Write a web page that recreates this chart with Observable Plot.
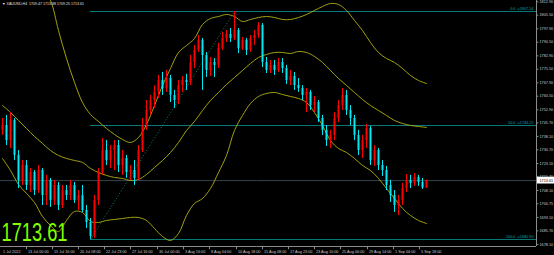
<!DOCTYPE html>
<html><head><meta charset="utf-8">
<script src="https://cdn.jsdelivr.net/npm/d3@7"></script>
<script src="https://cdn.jsdelivr.net/npm/@observablehq/plot@0.6"></script>
<style>
html,body{margin:0;padding:0;background:#000;overflow:hidden}
#chart svg{display:block}
</style></head><body><div id="chart"></div>
<script>
const header = "\u25BC XAUUSD,H4  1709.47 1713.88 1709.25 1713.61";

const opens = [1741.5,1744.2,1735.9,1747.0,1727.6,1713.7,1722.0,1710.9,1718.1,1708.1,
1719.2,1705.3,1713.7,1702.6,1710.9,1699.8,1708.1,1705.3,1710.9,1702.6,
1705.3,1697.0,1690.3,1682.6,1702.6,1718.1,1730.3,1724.8,1730.3,1733.1,
1722.0,1725.9,1718.1,1719.2,1714.8,1730.3,1744.2,1752.6,1758.1,1762.6,
1769.2,1764.8,1770.3,1760.9,1758.1,1766.4,1769.2,1768.1,1779.2,1785.9,
1791.4,1783.1,1774.8,1779.2,1777.6,1787.0,1792.6,1794.8,1792.6,1797.0,
1787.0,1791.4,1785.9,1792.6,1794.2,1799.8,1779.2,1774.8,1777.6,1774.8,
1779.2,1775.9,1769.2,1771.4,1766.4,1764.8,1760.9,1762.6,1755.3,1757.0,
1748.1,1741.5,1735.9,1738.7,1748.1,1755.3,1760.9,1752.6,1748.1,1738.7,
1730.3,1735.9,1742.6,1724.8,1730.3,1722.0,1719.2,1710.9,1705.3,1699.8,
1702.6,1709.2,1713.7,1712.0,1715.4,1712.6,1709.47];
const highs = [1748.1,1749.8,1751.4,1748.1,1730.3,1724.8,1724.8,1720.3,1719.2,1722.0,
1720.3,1716.5,1714.8,1713.7,1712.6,1710.9,1710.9,1713.7,1712.6,1708.1,
1710.9,1699.8,1692.6,1705.3,1720.3,1737.0,1735.9,1733.1,1735.9,1735.9,
1730.3,1727.6,1722.0,1724.8,1733.1,1748.1,1758.1,1760.9,1766.4,1772.0,
1773.7,1774.8,1772.0,1763.7,1769.2,1771.4,1772.6,1783.1,1788.7,1794.2,
1792.6,1784.8,1782.0,1781.4,1789.8,1795.9,1797.0,1798.1,1807.54,1798.1,
1793.1,1792.6,1794.2,1797.0,1801.4,1800.9,1782.0,1780.3,1780.3,1781.4,
1781.4,1777.6,1774.8,1773.7,1770.3,1766.4,1764.8,1763.7,1760.3,1758.1,
1749.8,1744.2,1741.5,1751.4,1758.1,1764.8,1763.7,1755.3,1749.8,1741.5,
1738.7,1744.8,1743.7,1733.1,1731.5,1724.8,1721.5,1713.7,1708.1,1705.3,
1712.0,1717.0,1716.5,1717.6,1716.5,1714.8,1713.88];
const lows = [1738.7,1733.1,1731.5,1724.8,1709.2,1710.9,1708.1,1707.0,1705.3,1706.5,
1699.8,1699.8,1698.7,1699.8,1697.0,1698.1,1702.6,1702.6,1700.9,1697.0,
1695.9,1687.0,1680.9,1681.5,1699.8,1716.5,1722.0,1720.3,1719.2,1718.1,
1716.5,1714.8,1713.7,1710.9,1713.7,1729.2,1741.5,1749.8,1753.7,1759.2,
1760.9,1762.6,1757.0,1753.7,1755.9,1762.6,1763.7,1766.4,1775.9,1784.8,
1763.7,1770.9,1771.4,1770.9,1775.9,1785.9,1790.3,1790.3,1791.4,1784.2,
1785.9,1783.1,1784.8,1788.7,1792.6,1776.4,1773.1,1773.1,1772.0,1773.7,
1773.1,1767.0,1766.4,1763.7,1762.6,1758.1,1751.4,1752.6,1751.4,1745.9,
1738.7,1732.6,1731.5,1735.9,1745.9,1752.6,1749.8,1744.2,1735.9,1727.6,
1725.9,1731.5,1722.0,1721.5,1719.2,1715.9,1708.1,1701.5,1695.9,1694.2,
1699.8,1707.0,1709.2,1710.4,1710.4,1708.7,1709.25];
const closes = [1744.2,1735.9,1747.0,1727.6,1713.7,1722.0,1710.9,1718.1,1708.1,1719.2,
1705.3,1713.7,1702.6,1710.9,1699.8,1708.1,1705.3,1710.9,1702.6,1705.3,
1697.0,1690.3,1682.6,1702.6,1718.1,1730.3,1724.8,1730.3,1733.1,1722.0,
1725.9,1718.1,1719.2,1714.8,1730.3,1744.2,1752.6,1758.1,1762.6,1769.2,
1764.8,1770.3,1760.9,1758.1,1766.4,1769.2,1768.1,1779.2,1785.9,1791.4,
1783.1,1774.8,1779.2,1777.6,1787.0,1792.6,1794.8,1792.6,1797.0,1787.0,
1791.4,1785.9,1792.6,1794.2,1799.8,1779.2,1774.8,1777.6,1774.8,1779.2,
1775.9,1769.2,1771.4,1766.4,1764.8,1760.9,1762.6,1755.3,1757.0,1748.1,
1741.5,1735.9,1738.7,1748.1,1755.3,1760.9,1752.6,1748.1,1738.7,1730.3,
1735.9,1742.6,1724.8,1730.3,1722.0,1719.2,1710.9,1705.3,1699.8,1702.6,
1709.2,1713.7,1712.0,1715.4,1712.6,1709.5,1713.61];

const bbIdx = [0,2,4,6,8,10,12,14,16,18,20,22,24,26,28,30,32,34,36,38,40,42,44,46,48,50,52,54,56,58,60,62,64,66,68,70,72,74,76,78,80,82,84,86,88,90,92,94,96,98,100,102,104,106];
const bbUpper = [1846.97,1841.42,1835.87,1830.31,1824.76,1820.31,1813.65,1796.99,1781.44,1768.11,
1757.0,1750.33,1746.45,1742.56,1739.23,1736.45,1734.78,1737.56,1744.78,1755.33,
1766.44,1775.88,1784.77,1788.66,1792.55,1800.32,1803.65,1804.76,1805.87,1804.76,
1801.99,1803.10,1804.21,1804.76,1804.21,1803.10,1803.10,1804.21,1805.87,1808.10,
1810.32,1811.98,1811.43,1808.10,1802.54,1796.99,1790.32,1784.77,1781.44,1779.22,
1775.88,1772.0,1769.22,1767.55];
const bbMiddle = [1755.33,1751.45,1747.0,1742.56,1738.12,1734.23,1730.34,1727.56,1725.9,1724.79,
1723.68,1720.34,1718.12,1716.46,1715.35,1714.79,1713.68,1714.23,1717.01,1720.9,
1724.79,1729.23,1734.78,1741.45,1746.45,1752.56,1758.11,1762.55,1767.0,1770.89,
1774.77,1778.66,1781.99,1783.66,1784.77,1784.77,1784.21,1785.32,1784.77,1782.55,
1779.22,1774.77,1770.33,1766.44,1762.55,1758.67,1755.33,1752.56,1749.78,1747.0,
1745.34,1744.23,1743.67,1743.12];
const bbLower = [1725.9,1719.23,1711.46,1706.46,1701.46,1693.69,1688.69,1685.35,1691.46,1696.46,
1695.91,1690.91,1690.35,1691.46,1692.02,1692.57,1693.13,1693.13,1691.46,1687.02,
1682.58,1680.35,1684.24,1694.24,1700.9,1703.68,1709.24,1718.12,1727.56,1741.45,
1749.78,1756.44,1760.33,1762.0,1762.55,1761.44,1760.33,1759.22,1757.0,1751.45,
1744.23,1735.89,1731.45,1729.23,1725.9,1722.01,1719.23,1714.79,1709.24,1703.68,
1698.13,1694.24,1691.46,1689.8];

const fibLevels = [0, 50, 100];

const yTicks = [1812.90,1805.50,1797.90,1790.50,1782.90,1775.50,1767.90,1760.50,1752.90,1745.70,1738.10,1730.70,1723.10,1715.70,1708.10,1700.75,1693.10,1685.70,1678.10];
const xTickPos = [-0.25,6,12.5,19,25.5,32,38.75,45.25,51.75,58.5,65,71.5,78,84.5,91.25,97.75,104.25];
const xTickLabels = ["1 Jul 2022","13 Jul 00:00","15 Jul 16:00","20 Jul 08:00","22 Jul 23:00","27 Jul 16:00","30 Jul 00:00","3 Aug 16:00","8 Aug 04:00","10 Aug 18:00","15 Aug 08:00","17 Aug 23:00","23 Aug 10:00","25 Aug 00:00","29 Aug 14:00","1 Sep 04:00","5 Sep 18:00"];

const yDomain = [1677.0, 1813.65];
const xDomain = [-0.5, 138];
const plotRight = 133.5;

const UP = "#ff0000", DOWN = "#00e8f4", BAND = "#b4b40a", FIB = "#0a7a7a", AXIS = "#8c8c8c", TXT = "#c8c8c8";
const F = "Liberation Sans, Arial, sans-serif";

const candles = opens.map((o, i) => ({i, o, h: highs[i], l: lows[i], c: closes[i]}));
const bands = bbIdx.map((x, k) => ({x, u: bbUpper[k], m: bbMiddle[k], l: bbLower[k]}));
const lowIdx = d3.minIndex(lows), highIdx = d3.maxIndex(highs);
const lowP = lows[lowIdx], highP = highs[highIdx];
const fib = fibLevels.map(lv => ({lv, p: highP + (lowP - highP) * lv / 100}));
const last = closes[closes.length - 1];
const xTicks = xTickPos.map((p, k) => ({p, t: xTickLabels[k]}));
const col = d => d.c >= d.o ? UP : DOWN;

const chart = Plot.plot({
  width: 554, height: 255,
  marginLeft: 0, marginRight: 0, marginTop: 0, marginBottom: 9,
  x: {domain: xDomain, axis: null},
  y: {domain: yDomain, axis: null},
  style: {background: "#000", fontFamily: F, overflow: "visible"},
  marks: [
    Plot.ruleY([last], {x1: xDomain[0], x2: plotRight, stroke: "#34444c", strokeWidth: 1}),
    Plot.ruleY(fib, {y: "p", x1: lowIdx, x2: plotRight, stroke: FIB, strokeWidth: 1}),
    Plot.link([0], {x1: lowIdx, y1: lowP, x2: highIdx, y2: highP, stroke: "#15a07a", strokeWidth: 0.8, strokeDasharray: "1,2"}),
    Plot.line(bands, {x: "x", y: "u", curve: "catmull-rom", stroke: BAND, strokeWidth: 0.9, clip: true}),
    Plot.line(bands, {x: "x", y: "m", curve: "catmull-rom", stroke: BAND, strokeWidth: 0.9, clip: true}),
    Plot.line(bands, {x: "x", y: "l", curve: "catmull-rom", stroke: BAND, strokeWidth: 0.9, clip: true}),
    Plot.ruleX(candles, {x: "i", y1: "l", y2: "h", stroke: col, strokeWidth: 1}),
    Plot.ruleX(candles, {x: "i", y1: "o", y2: "c", stroke: col, strokeWidth: 2}),
    Plot.text(fib, {x: plotRight, y: "p", text: d => `${d.lv.toFixed(1)}  =${d.p.toFixed(2)}`, dx: -3, dy: -2.6, textAnchor: "end", fill: "#12a0a0", fontSize: 3.8}),
    // axes
    Plot.ruleX([plotRight], {y1: yDomain[0], y2: yDomain[1], stroke: AXIS, strokeWidth: 1}),
    Plot.ruleY([yDomain[0]], {x1: xDomain[0], x2: plotRight, stroke: AXIS, strokeWidth: 1}),
    Plot.ruleY(yTicks, {y: d => d, x1: plotRight, x2: plotRight + 0.6, stroke: AXIS}),
    Plot.text(yTicks, {x: plotRight, y: d => d, text: d => d.toFixed(2), dx: 3, textAnchor: "start", fill: TXT, fontSize: 3.8}),
    Plot.ruleX(xTicks.slice(1), {x: "p", y1: yDomain[0], y2: yDomain[0] - 1.8, stroke: AXIS}),
    Plot.text(xTicks, {x: "p", y: yDomain[0], text: "t", dx: 1.5, dy: 5, textAnchor: "start", fill: TXT, fontSize: 3.8}),
    // current price box
    Plot.rect([last], {x1: plotRight + 0.25, x2: xDomain[1], y1: d => d - 1.9, y2: d => d + 1.9, fill: "#ffffff"}),
    Plot.text([last], {x: plotRight, y: d => d, text: d => d.toFixed(2), dx: 3, textAnchor: "start", fill: "#000", fontSize: 3.8}),
    // big price + header
    Plot.text([last], {frameAnchor: "bottom-left", text: d => d.toFixed(2), dx: 1, dy: -5.5, textAnchor: "start", lineAnchor: "bottom", fill: "#7fff00", fontSize: 25}),
    Plot.text([header], {frameAnchor: "top-left", dx: 1.5, dy: 3.5, textAnchor: "start", lineAnchor: "middle", fill: "#e0e0e0", fontSize: 3.6})
  ]
});
d3.select(chart).selectAll("text").each(function() {
  const fs = this.getAttribute("font-size") || (this.parentNode && this.parentNode.getAttribute("font-size"));
  if (this.textContent === last.toFixed(2) && +fs === 25) {
    d3.select(this).attr("textLength", 66).attr("lengthAdjust", "spacingAndGlyphs");
  }
});
document.getElementById("chart").append(chart);
</script></body></html>
